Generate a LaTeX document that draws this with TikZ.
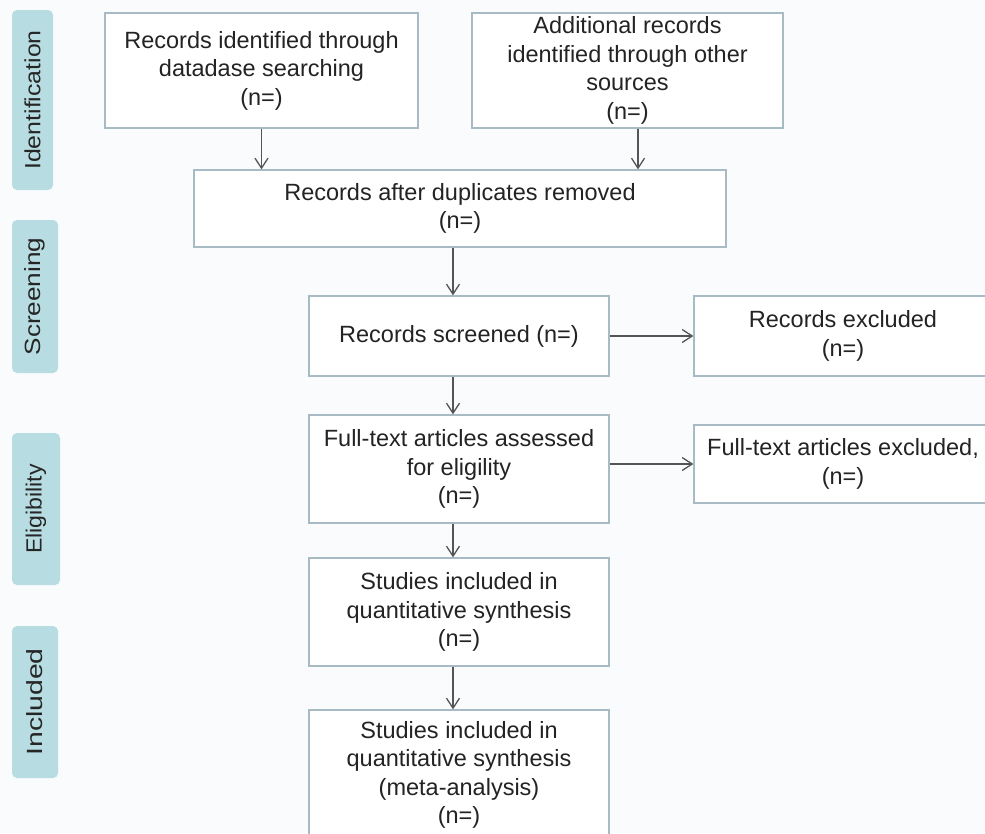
\documentclass[tikz,border=0pt]{standalone}
\usepackage{fontspec}
\setmainfont{Liberation Sans}
\usetikzlibrary{arrows.meta}
\definecolor{bgc}{RGB}{250,251,253}
\definecolor{tabc}{RGB}{183,221,226}
\definecolor{boxc}{RGB}{168,186,196}
\definecolor{arrc}{RGB}{85,85,85}
\definecolor{txt}{RGB}{35,35,35}
\begin{document}
\begin{tikzpicture}[x=1pt,y=-1pt,
  box/.style={draw=boxc, line width=1.3pt, fill=white, align=center,
    font=\fontsize{23.5}{28.5}\selectfont, text=txt, inner sep=0pt},
  tab/.style={fill=tabc, rounded corners=5pt, rotate=90, text=black!85,
    font=\fontsize{22}{24}\selectfont, inner sep=0pt},
  arr/.style={draw=arrc, line width=1.3pt, -{Straight Barb[length=10pt,width=13pt]}}]
\useasboundingbox (0,0) rectangle (985,833);
\clip (0,0) rectangle (985,833);
\fill[bgc] (0,0) rectangle (985,833);

% side tabs
\node[tab, minimum width=180pt, minimum height=41pt] (t1) at (32.5,100) {\scalebox{1.13}[1]{Identification}};
\node[tab, minimum width=153pt, minimum height=46pt] (t2) at (35,296.5) {\scalebox{1.19}[1]{Screening}};
\node[tab, minimum width=152pt, minimum height=48pt] (t3) at (36,509) {\scalebox{1.05}[1]{Eligibility}};
\node[tab, minimum width=152pt, minimum height=46pt] (t4) at (35,702) {\scalebox{1.29}[1]{Included}};

% boxes
\node[box, minimum width=313pt, minimum height=115pt] (b1) at (261.5,70.5) {Records identified through\\datadase searching\\(n=)};
\node[box, minimum width=311pt, minimum height=115pt] (b2) at (627.5,70.5) {Additional records\\identified through other\\sources\\(n=)};
\node[box, minimum width=532pt, minimum height=77pt] (b3) at (460,208.5) {Records after duplicates removed\\(n=)};
\node[box, minimum width=300pt, minimum height=80pt] (b4) at (459,336) {Records screened (n=)};
\node[box, minimum width=300pt, minimum height=108pt] (b5) at (459,469) {Full-text articles assessed\\for eligility\\(n=)};
\node[box, minimum width=300pt, minimum height=108pt] (b6) at (459,612) {Studies included in\\quantitative synthesis\\(n=)};
\node[box, minimum width=300pt, minimum height=130pt] (b7) at (459,775) {Studies included in\\quantitative synthesis\\(meta-analysis)\\(n=)};
\node[box, minimum width=298pt, minimum height=80pt] (r1) at (843,336) {Records excluded\\(n=)};
\node[box, minimum width=298pt, minimum height=78pt] (r2) at (843,464) {Full-text articles excluded,\\(n=)};

% connectors
\draw[arr] (b1.south) -- (b1.south |- b3.north);
\draw[arr] ([xshift=10.5pt]b2.south) -- ([xshift=10.5pt]b2.south |- b3.north);
\draw[arr] ([xshift=-7pt]b3.south) -- ([xshift=-7pt]b3.south |- b4.north);
\draw[arr] ([xshift=-6pt]b4.south) -- ([xshift=-6pt]b4.south |- b5.north);
\draw[arr] ([xshift=-6pt]b5.south) -- ([xshift=-6pt]b5.south |- b6.north);
\draw[arr] ([xshift=-6pt]b6.south) -- ([xshift=-6pt]b6.south |- b7.north);
\draw[arr] (b4.east) -- (r1.west);
\draw[arr] (b5.east |- r2.west) -- (r2.west);
\end{tikzpicture}
\end{document}
